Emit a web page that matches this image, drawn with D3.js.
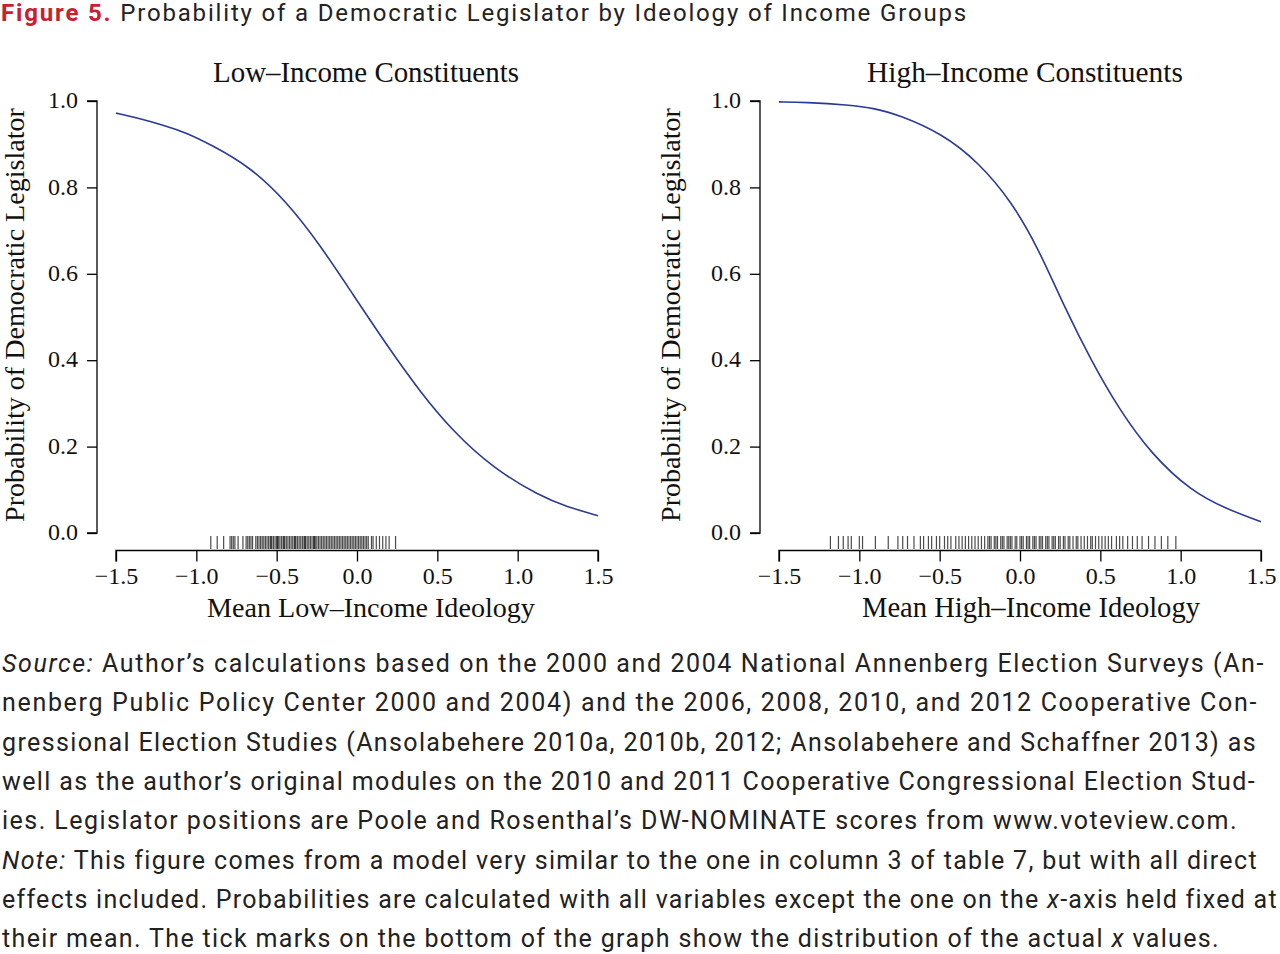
<!DOCTYPE html>
<html>
<head>
<meta charset="utf-8">
<script src="https://cdn.jsdelivr.net/npm/d3@7"></script>
<style>
  body { margin: 0; background: #fff; }
  svg { display: block; }
</style>
</head>
<body>
<svg id="chart" width="1280" height="954"></svg>
<script>
// --------------------------
// DATA
// --------------------------
const xTicks = [-1.5, -1.0, -0.5, 0.0, 0.5, 1.0, 1.5];
const yTicks = [0.0, 0.2, 0.4, 0.6, 0.8, 1.0];

// predicted probability curve, low-income panel
const lowX = [-1.5, -1.392, -1.184, -1.06, -0.915, -0.666, -0.438, -0.230, -0.023, 0.185, 0.392, 0.600, 0.848, 1.139, 1.305, 1.5];
const lowP = [0.972, 0.963, 0.942, 0.926, 0.900, 0.848, 0.767, 0.667, 0.551, 0.435, 0.327, 0.234, 0.150, 0.085, 0.061, 0.040];

// predicted probability curve, high-income panel
const highX = [-1.5, -1.338, -1.069, -0.902, -0.757, -0.487, -0.260, -0.052, 0.114, 0.280, 0.446, 0.612, 0.820, 1.069, 1.276, 1.5];
const highP = [0.998, 0.997, 0.991, 0.983, 0.968, 0.925, 0.859, 0.767, 0.659, 0.520, 0.397, 0.289, 0.181, 0.096, 0.057, 0.026];

// rug of observed x values
const lowRug = [-0.91, -0.87, -0.83, -0.79, -0.78, -0.77, -0.76, -0.74, -0.71, -0.69, -0.68, -0.67,
  -0.66, -0.65, -0.63, -0.62, -0.61, -0.60, -0.59, -0.58, -0.57, -0.56, -0.55, -0.54, -0.535, -0.53,
  -0.52, -0.51, -0.50, -0.495, -0.49, -0.48, -0.47, -0.46, -0.455, -0.45, -0.44, -0.43, -0.42, -0.41,
  -0.40, -0.39, -0.385, -0.38, -0.37, -0.36, -0.35, -0.34, -0.33, -0.325, -0.32, -0.31, -0.30, -0.29,
  -0.28, -0.27, -0.265, -0.26, -0.25, -0.24, -0.23, -0.22, -0.21, -0.20, -0.19, -0.18, -0.17, -0.16,
  -0.15, -0.14, -0.13, -0.12, -0.11, -0.10, -0.09, -0.08, -0.07, -0.06, -0.05, -0.04, -0.03, -0.02,
  -0.01, 0.0, 0.01, 0.02, 0.03, 0.04, 0.05, 0.06, 0.07, 0.09, 0.10, 0.12, 0.14, 0.16, 0.18, 0.20, 0.24];

const highRug = [-1.18, -1.13, -1.10, -1.07, -1.05, -1.0, -0.98, -0.90, -0.82, -0.76, -0.73, -0.70,
  -0.66, -0.62, -0.60, -0.57, -0.55, -0.52, -0.50, -0.47, -0.45, -0.43, -0.40, -0.38, -0.36, -0.34,
  -0.32, -0.30, -0.28, -0.26, -0.24, -0.22, -0.20, -0.19, -0.18, -0.16, -0.15, -0.14, -0.12, -0.11,
  -0.10, -0.08, -0.07, -0.06, -0.05, -0.03, -0.02, 0.0, 0.01, 0.02, 0.04, 0.05, 0.06, 0.08, 0.09, 0.10,
  0.12, 0.13, 0.14, 0.16, 0.17, 0.18, 0.20, 0.21, 0.22, 0.24, 0.25, 0.27, 0.28, 0.30, 0.31, 0.33, 0.35,
  0.36, 0.38, 0.40, 0.42, 0.44, 0.45, 0.47, 0.49, 0.51, 0.53, 0.55, 0.57, 0.60, 0.62, 0.64, 0.67, 0.70,
  0.73, 0.76, 0.80, 0.84, 0.88, 0.92, 0.97];

const panelTitles = ["Low\u2013Income Constituents", "High\u2013Income Constituents"];
const xTitles = ["Mean Low\u2013Income Ideology", "Mean High\u2013Income Ideology"];
const yTitle = "Probability of Democratic Legislator";

// footnote lines, each an array of [text, italic]
const noteLines = [
  [["Source:", true], [" Author\u2019s calculations based on the 2000 and 2004 National Annenberg Election Surveys (An-", false]],
  [["nenberg Public Policy Center 2000 and 2004) and the 2006, 2008, 2010, and 2012 Cooperative Con-", false]],
  [["gressional Election Studies (Ansolabehere 2010a, 2010b, 2012; Ansolabehere and Schaffner 2013) as", false]],
  [["well as the author\u2019s original modules on the 2010 and 2011 Cooperative Congressional Election Stud-", false]],
  [["ies. Legislator positions are Poole and Rosenthal\u2019s DW-NOMINATE scores from www.voteview.com.", false]],
  [["Note:", true], [" This figure comes from a model very similar to the one in column 3 of table 7, but with all direct", false]],
  [["effects included. Probabilities are calculated with all variables except the one on the ", false], ["x", true], ["-axis held fixed at", false]],
  [["their mean. The tick marks on the bottom of the graph show the distribution of the actual ", false], ["x", true], [" values.", false]]
];
const noteRight = [1265, 1258, 1257, 1256, 1238, 1257, 1277, 1220];

// --------------------------
// LAYOUT
// --------------------------
const svg = d3.select("#chart");
const serif = "'Liberation Serif', 'Times New Roman', serif";
const sans = "Roboto, 'Noto Sans', sans-serif";
const fmt = d => d3.format(".1f")(d).replace("-", "\u2212");

// scale font size so a text element spans a given width
function fitWidth(sel, target) {
    const fs = parseFloat(sel.attr("font-size"));
    const w = sel.node().getComputedTextLength();
    sel.attr("font-size", fs * target / w);
}

// spread letters so a text element spans a given width
function spreadTo(sel, target, nChars) {
    const w = sel.node().getComputedTextLength();
    sel.attr("letter-spacing", (target - w) / nChars);
}

const panels = [
    { xs: lowX, ps: lowP, rug: lowRug, left: 116, right: 598, yAxisX: 97, titleX: 366, titleW: 306, xTitleX: 371, xTitleW: 328, yTitleX: 24 },
    { xs: highX, ps: highP, rug: highRug, left: 779, right: 1261, yAxisX: 760, titleX: 1025, titleW: 316, xTitleX: 1031, xTitleW: 338, yTitleX: 680 }
];

const yTop = 101, yBottom = 533, xAxisY = 550.5;

panels.forEach((p, i) => {
    const g = svg.append("g");

    const x = d3.scaleLinear().domain([-1.5, 1.5]).range([p.left, p.right]);
    const y = d3.scaleLinear().domain([0, 1]).range([yBottom, yTop]);

    // y axis
    const yAxis = g.append("g")
        .attr("transform", `translate(${p.yAxisX},0)`)
        .call(d3.axisLeft(y).tickValues(yTicks).tickFormat(fmt).tickSize(10).tickPadding(9));
    yAxis.select(".domain").attr("stroke", "#000").attr("stroke-width", 1.3)
        .attr("d", `M-10,${yBottom}H0V${yTop}H-10`);
    yAxis.selectAll(".tick line").attr("stroke", "#000").attr("stroke-width", 1.3);
    yAxis.selectAll(".tick text").attr("font-family", serif).attr("font-size", 24).attr("fill", "#111")
        .attr("dy", "0.28em");

    // x axis
    const xAxis = g.append("g")
        .attr("transform", `translate(0,${xAxisY})`)
        .call(d3.axisBottom(x).tickValues(xTicks).tickFormat(fmt).tickSize(11).tickPadding(5));
    xAxis.select(".domain").attr("stroke", "#000").attr("stroke-width", 1.3)
        .attr("d", `M${p.left},11V0H${p.right}V11`);
    xAxis.selectAll(".tick line").attr("stroke", "#000").attr("stroke-width", 1.3);
    xAxis.selectAll(".tick text").attr("font-family", serif).attr("font-size", 24).attr("fill", "#111");

    // rug
    g.append("g")
        .selectAll("line")
        .data(p.rug)
        .enter()
        .append("line")
        .attr("x1", d => x(d))
        .attr("x2", d => x(d))
        .attr("y1", 536)
        .attr("y2", 549)
        .attr("stroke", "#000")
        .attr("stroke-width", 1.2)
        .attr("opacity", 0.7);

    // curve
    const pts = p.xs.map((v, k) => [v, p.ps[k]]);
    g.append("path")
        .datum(pts)
        .attr("d", d3.line().x(d => x(d[0])).y(d => y(d[1])).curve(d3.curveBasis))
        .attr("fill", "none")
        .attr("stroke", "#2a3a96")
        .attr("stroke-width", 1.6);

    // panel title
    const t = g.append("text")
        .attr("x", p.titleX).attr("y", 82)
        .attr("text-anchor", "middle")
        .attr("font-family", serif).attr("font-size", 24).attr("fill", "#111")
        .text(panelTitles[i]);
    fitWidth(t, p.titleW);

    // x title
    const xt = g.append("text")
        .attr("x", p.xTitleX).attr("y", 617)
        .attr("text-anchor", "middle")
        .attr("font-family", serif).attr("font-size", 24).attr("fill", "#111")
        .text(xTitles[i]);
    fitWidth(xt, p.xTitleW);

    // y title
    const yt = g.append("text")
        .attr("transform", `translate(${p.yTitleX},315) rotate(-90)`)
        .attr("text-anchor", "middle")
        .attr("font-family", serif).attr("font-size", 24).attr("fill", "#111")
        .text(yTitle);
    fitWidth(yt, 414);
});

// --------------------------
// FIGURE TITLE
// --------------------------
const title = svg.append("text")
    .attr("x", 1).attr("y", 21)
    .attr("font-family", sans).attr("font-size", 24);
title.append("tspan").attr("font-weight", "bold").attr("fill", "#c8202f").text("Figure 5.");
const titleRest = " Probability of a Democratic Legislator by Ideology of Income Groups";
title.append("tspan").attr("fill", "#222").text(titleRest);
spreadTo(title, 967, ("Figure 5." + titleRest).length);

// --------------------------
// FOOTNOTE (justified lines)
// --------------------------
noteLines.forEach((line, i) => {
    const t = svg.append("text")
        .attr("x", 2).attr("y", 672 + i * 39.3)
        .attr("font-family", sans).attr("font-size", 25).attr("fill", "#222");
    line.forEach(([s, it]) => {
        t.append("tspan").attr("font-style", it ? "italic" : "normal").text(s);
    });
    const full = line.map(d => d[0]).join("");
    spreadTo(t, noteRight[i] - 2, full.length);
});
</script>
</body>
</html>
